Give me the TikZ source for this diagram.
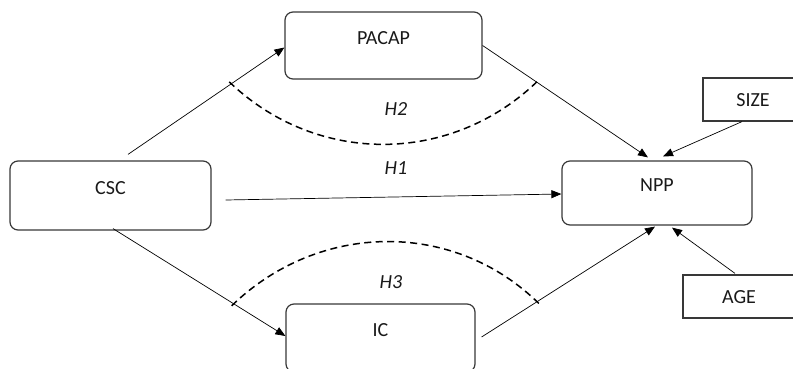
\documentclass[tikz,border=0pt]{standalone}
\usepackage{fontspec}
\setmainfont{Carlito}
\usetikzlibrary{arrows.meta}
\begin{document}
\begin{tikzpicture}[x=1pt,y=-1pt,
  rbox/.style={draw=black!78,line width=1.2pt,rounded corners=8pt,inner sep=0pt},
  sbox/.style={draw=black!78,line width=1.2pt,inner sep=0pt},
  lbl/.style={font=\fontsize{20}{22}\selectfont,text=black!90,inner sep=0pt},
  hyp/.style={font=\fontsize{20}{22}\selectfont\itshape,text=black!90,inner sep=0pt},
  arr/.style={draw=black,line width=0.7pt,-{Triangle[length=10pt,width=8pt]}},
  moderation/.style={draw=black,line width=1.5pt,dash pattern=on 7pt off 4.5pt}]
\useasboundingbox (0,0) rectangle (793,369);
\clip (0,0) rectangle (793,369);

% construct boxes
\node[rbox,minimum width=197pt,minimum height=67pt] (pacap) at (383.5,45.5) {};
\node[rbox,minimum width=201pt,minimum height=69pt] (csc) at (110.5,195.5) {};
\node[rbox,minimum width=190pt,minimum height=64pt] (npp) at (657,193) {};
\node[rbox,minimum width=189pt,minimum height=68pt] (ic) at (380.5,338) {};
\node[sbox,minimum width=100pt,minimum height=43pt] (size) at (753,99.5) {};
\node[sbox,minimum width=112pt,minimum height=43pt] (age) at (739,296.5) {};

% box captions
\node[lbl] (tpacap) at ([shift={(0,-7)}]pacap.center) {PACAP};
\node[lbl] (tcsc) at ([shift={(0,-7)}]csc.center) {CSC};
\node[lbl] (tnpp) at ([shift={(0,-8)}]npp.center) {NPP};
\node[lbl] (tic) at ([shift={(0,-8)}]ic.center) {IC};
\node[lbl] (tsize) at ([shift={(0,1)}]size.center) {SIZE};
\node[lbl] (tage) at ([shift={(0,0.5)}]age.center) {AGE};

% paths
\draw[arr] ([shift={(17.5,-6)}]csc.north) -- coordinate[pos=0.66] (h2a) ([shift={(0,2)}]pacap.west);
\draw[arr] (pacap.east) -- coordinate[pos=0.327] (h2b) ([shift={(-9,-3)}]npp.north);
\draw[arr] ([shift={(-11,0)}]size.south) -- ([shift={(6,-4)}]npp.north);
\draw[arr] ([shift={(14,4.5)}]csc.east) -- ([shift={(0,1)}]npp.west);
\draw[arr] ([shift={(2.5,-2)}]csc.south) -- coordinate[pos=0.70] (h3a) ([shift={(0,-2)}]ic.west);
\draw[arr] ([shift={(6,-1)}]ic.east) -- coordinate[pos=0.32] (h3b) ([shift={(-2,1)}]npp.south);
\draw[arr] ([shift={(-4,-1)}]age.north) -- ([shift={(15,2)}]npp.south);

% moderation arcs, each reaching just across its path
\draw[moderation] ([shift={(-2,-2)}]h2a) .. controls (317,166) and (452,165) .. ([shift={(2,-2)}]h2b);
\draw[moderation] ([shift={(-2,2)}]h3a) .. controls (318,222) and (453,219) .. ([shift={(2,2)}]h3b);

% hypothesis labels
\node[hyp] (lh2) at (396,109) {H2};
\node[hyp] (lh1) at (396,168) {H1};
\node[hyp] (lh3) at (391,282) {H3};
\end{tikzpicture}
\end{document}
